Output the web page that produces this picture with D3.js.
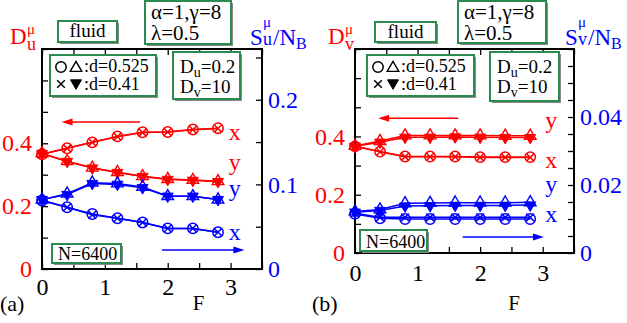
<!DOCTYPE html>
<html lang="en">
<head>
<meta charset="utf-8">
<title>D and S vs F</title>
<script src="https://cdn.jsdelivr.net/npm/d3@7"></script>
<style>
  body { margin: 0; background: #fff; }
  svg text { font-family: "Liberation Serif", "Times New Roman", serif; }
</style>
</head>
<body>
<script>
// ---- data -------------------------------------------------------------
const F = [0, 0.4, 0.8, 1.2, 1.6, 2.0, 2.4, 2.8];

// panel (a): D_u (left axis), S_u/N_B (right axis)
const aDx525 = [0.365, 0.384, 0.403, 0.422, 0.435, 0.436, 0.444, 0.448];
const aDx41  = [0.365, 0.384, 0.403, 0.421, 0.434, 0.436, 0.443, 0.447];
const aDy525 = [0.368, 0.343, 0.322, 0.308, 0.295, 0.286, 0.283, 0.279];
const aDy41  = [0.367, 0.342, 0.321, 0.307, 0.294, 0.285, 0.282, 0.278];
const aSx525 = [0.081, 0.073, 0.065, 0.060, 0.055, 0.048, 0.048, 0.0435];
const aSx41  = [0.081, 0.073, 0.064, 0.060, 0.055, 0.048, 0.048, 0.0435];
const aSy525 = [0.082, 0.089, 0.102, 0.101, 0.097, 0.086, 0.086, 0.082];
const aSy41  = [0.082, 0.088, 0.101, 0.100, 0.096, 0.086, 0.086, 0.082];

// panel (b): D_v (left axis), S_v/N_B (right axis)
const bDx525 = [0.366, 0.348, 0.331, 0.331, 0.331, 0.329, 0.329, 0.329];
const bDx41  = [0.366, 0.347, 0.330, 0.330, 0.330, 0.328, 0.328, 0.328];
const bDy525 = [0.367, 0.384, 0.403, 0.403, 0.403, 0.403, 0.402, 0.402];
const bDy41  = [0.366, 0.380, 0.397, 0.397, 0.398, 0.397, 0.396, 0.396];
const bSx525 = [0.0115, 0.0102, 0.0100, 0.0100, 0.0100, 0.0100, 0.0100, 0.0100];
const bSx41  = [0.0117, 0.0105, 0.0105, 0.0105, 0.0105, 0.0105, 0.0105, 0.0105];
const bSy525 = [0.0122, 0.0128, 0.0146, 0.0147, 0.0148, 0.0148, 0.0148, 0.0149];
const bSy41  = [0.0120, 0.0125, 0.0138, 0.0139, 0.0140, 0.0140, 0.0140, 0.0141];

// ticks
const fTicks  = [0, 0.5, 1, 1.5, 2, 2.5, 3, 3.5];
const fLabels = [0, 1, 2, 3];
const dTicks  = [0, 0.1, 0.2, 0.3, 0.4, 0.5, 0.6, 0.7];
const dLabels = [0, 0.2, 0.4];
const aSTicks  = [0, 0.05, 0.1, 0.15, 0.2, 0.25];
const aSLabels = [0, 0.1, 0.2];
const bSTicks  = [0, 0.005, 0.01, 0.015, 0.02, 0.025, 0.03, 0.035, 0.04, 0.045, 0.05, 0.055, 0.06];
const bSLabels = [0, 0.02, 0.04];

// ---- drawing ----------------------------------------------------------
const RED = "#ff0000", BLUE = "#0000ff", GREEN = "#2b8a4f";
const width = 627, height = 323;

const svg = d3.select("body").append("svg")
  .attr("width", width)
  .attr("height", height);

function marker(g, type, cx, cy, color) {
  if (type === "circle") {
    g.append("circle").attr("cx", cx).attr("cy", cy).attr("r", 5.2)
      .attr("fill", "none").attr("stroke", color).attr("stroke-width", 1.5);
  } else if (type === "cross") {
    const s = 3.8;
    g.append("path")
      .attr("d", `M${cx-s},${cy-s}L${cx+s},${cy+s}M${cx-s},${cy+s}L${cx+s},${cy-s}`)
      .attr("stroke", color).attr("stroke-width", 1.5).attr("fill", "none");
  } else if (type === "tri") {
    g.append("path").attr("transform", `translate(${cx},${cy})`)
      .attr("d", d3.symbol(d3.symbolTriangle, 58)())
      .attr("fill", "none").attr("stroke", color).attr("stroke-width", 1.4);
  } else if (type === "trid") {
    g.append("path").attr("transform", `translate(${cx},${cy}) rotate(180)`)
      .attr("d", d3.symbol(d3.symbolTriangle, 52)())
      .attr("fill", color).attr("stroke", color).attr("stroke-width", 1);
  }
}

function box(x0, y0, w, h) {
  svg.append("rect").attr("x", x0 + 2).attr("y", y0 + 2).attr("width", w).attr("height", h)
    .attr("fill", "#8a8a8a");
  svg.append("rect").attr("x", x0).attr("y", y0).attr("width", w).attr("height", h)
    .attr("fill", "#fff").attr("stroke", GREEN).attr("stroke-width", 2);
}

function fmt(list) {
  return d => list.some(v => Math.abs(v - d) < 1e-9) ? String(d) : "";
}

function drawPanel(p) {
  const x = d3.scaleLinear().domain([0, 3.5]).range([p.l, p.r]);
  const yL = d3.scaleLinear().domain([0, 0.7]).range([p.b, p.t]);
  const yR = d3.scaleLinear().domain(p.sDomain).range([p.b, p.t]);

  // axes, ticks point inward
  const gB = svg.append("g").attr("transform", `translate(0,${p.b})`)
    .call(d3.axisBottom(x).tickValues(fTicks).tickFormat(fmt(fLabels))
      .tickSizeInner(-6).tickSizeOuter(0).tickPadding(p.xPad));
  const gT = svg.append("g").attr("transform", `translate(0,${p.t})`)
    .call(d3.axisTop(x).tickValues(fTicks).tickFormat("").tickSizeInner(-6).tickSizeOuter(0));
  const gL = svg.append("g").attr("transform", `translate(${p.l},0)`)
    .call(d3.axisLeft(yL).tickValues(dTicks).tickFormat(fmt(dLabels))
      .tickSizeInner(-6).tickSizeOuter(0).tickPadding(10));
  const gR = svg.append("g").attr("transform", `translate(${p.r},0)`)
    .call(d3.axisRight(yR).tickValues(p.sTicks).tickFormat(fmt(p.sLabels))
      .tickSizeInner(-6).tickSizeOuter(0).tickPadding(6));

  [gB, gT, gL, gR].forEach(g => {
    g.select(".domain").remove();
    g.selectAll(".tick line").attr("stroke", "#000").attr("stroke-width", 1.3);
    g.selectAll("text").attr("font-family", "Liberation Serif, serif").attr("font-size", 24);
  });
  gB.selectAll("text").attr("fill", "#000");
  gL.selectAll("text").attr("fill", RED);
  gR.selectAll("text").attr("fill", BLUE);

  svg.append("rect").attr("x", p.l).attr("y", p.t)
    .attr("width", p.r - p.l).attr("height", p.b - p.t)
    .attr("fill", "none").attr("stroke", "#000").attr("stroke-width", 2);

  // series
  p.series.forEach(s => {
    const yy = s.axis === "L" ? yL : yR;
    const pts = F.map((f, i) => [x(f), yy(s.vals[i])]);
    const g = svg.append("g");
    g.append("path").attr("d", d3.line()(pts))
      .attr("fill", "none").attr("stroke", s.color).attr("stroke-width", 1.5);
    pts.forEach(q => marker(g, s.mark, q[0], q[1], s.color));
  });

  // series labels
  p.labels.forEach(t => {
    const yy = t.axis === "L" ? yL : yR;
    svg.append("text").attr("x", x(t.f)).attr("y", yy(t.v))
      .attr("font-size", 24).attr("fill", t.color).text(t.text);
  });

  // arrows
  p.arrows.forEach(a => {
    const yy = a.axis === "L" ? yL : yR;
    const x1 = x(a.from), x2 = x(a.to), y0 = yy(a.v);
    const dir = Math.sign(x2 - x1);
    svg.append("line").attr("x1", x1).attr("x2", x2 - dir * 8).attr("y1", y0).attr("y2", y0)
      .attr("stroke", a.color).attr("stroke-width", 1.5);
    svg.append("path")
      .attr("d", `M${x2},${y0}L${x2 - dir * 11},${y0 - 3.5}L${x2 - dir * 11},${y0 + 3.5}Z`)
      .attr("fill", a.color);
  });

  // y titles
  const d = p.dTitle;
  svg.append("text").attr("x", d.x).attr("y", 44).attr("font-size", 23).attr("fill", RED).text("D");
  svg.append("text").attr("x", d.x + 17).attr("y", 34).attr("font-size", 15).attr("fill", RED).text("\u03bc");
  svg.append("text").attr("x", d.x + 17).attr("y", 50).attr("font-size", 18).attr("fill", RED).text(p.comp);

  const s = p.sTitle;
  svg.append("text").attr("x", s.x).attr("y", 45).attr("font-size", 23).attr("fill", BLUE).text("S");
  svg.append("text").attr("x", s.x + 13).attr("y", 27).attr("font-size", 15).attr("fill", BLUE).text("\u03bc");
  svg.append("text").attr("x", s.x + 13).attr("y", 45).attr("font-size", 18).attr("fill", BLUE).text(p.comp);
  const st = svg.append("text").attr("x", s.x + 23).attr("y", 45).attr("font-size", 23).attr("fill", BLUE);
  st.append("tspan").text("/N");
  st.append("tspan").attr("dy", 4).attr("font-size", 16).text("B");

  // boxes
  const b = p.boxes;
  box(b.fluid[0], b.fluid[1], b.fluid[2], b.fluid[3]);
  svg.append("text").attr("x", b.fluid[0] + b.fluid[2] / 2).attr("y", b.fluid[1] + 16)
    .attr("text-anchor", "middle").attr("font-size", 19).text("fluid");

  box(b.par[0], b.par[1], b.par[2], b.par[3]);
  svg.append("text").attr("x", b.par[0] + 6).attr("y", b.par[1] + 18).attr("font-size", 21)
    .text("\u03b1=1,\u03b3=8");
  svg.append("text").attr("x", b.par[0] + 6).attr("y", b.par[1] + 39).attr("font-size", 21)
    .text("\u03bb=0.5");

  box(b.leg[0], b.leg[1], b.leg[2], b.leg[3]);
  const lg = svg.append("g");
  const lx = b.leg[0], ly = b.leg[1];
  marker(lg, "circle", lx + 11, ly + 12, "#000");
  marker(lg, "tri", lx + 26, ly + 13, "#000");
  marker(lg, "cross", lx + 11, ly + 29, "#000");
  marker(lg, "trid", lx + 26, ly + 28, "#000");
  svg.append("text").attr("x", lx + 34).attr("y", ly + 17).attr("font-size", 18).text(":d=0.525");
  svg.append("text").attr("x", lx + 34).attr("y", ly + 35).attr("font-size", 18).text(":d=0.41");

  box(b.dd[0], b.dd[1], b.dd[2], b.dd[3]);
  const t1 = svg.append("text").attr("x", b.dd[0] + 7).attr("y", b.dd[1] + 21).attr("font-size", 19);
  t1.append("tspan").text("D");
  t1.append("tspan").attr("dy", 4).attr("font-size", 14).text("u");
  t1.append("tspan").attr("dy", -4).text("=0.2");
  const t2 = svg.append("text").attr("x", b.dd[0] + 7).attr("y", b.dd[1] + 41).attr("font-size", 19);
  t2.append("tspan").text("D");
  t2.append("tspan").attr("dy", 4).attr("font-size", 14).text("v");
  t2.append("tspan").attr("dy", -4).text("=10");

  box(b.n[0], b.n[1], b.n[2], b.n[3]);
  svg.append("text").attr("x", b.n[0] + 6).attr("y", b.n[1] + b.n[3] - 3).attr("font-size", 18)
    .text("N=6400");

  // panel letter and F
  svg.append("text").attr("x", p.tag[0]).attr("y", p.tag[1]).attr("font-size", 22).text(p.tag[2]);
  svg.append("text").attr("x", x(p.fLab[0])).attr("y", p.fLab[1]).attr("font-size", 21).text("F");
}

drawPanel({
  l: 42, r: 262, t: 49, b: 269, xPad: 9,
  sDomain: [0, 0.26], sTicks: aSTicks, sLabels: aSLabels,
  comp: "u",
  series: [
    { vals: aDx525, axis: "L", color: RED, mark: "circle" },
    { vals: aDx41, axis: "L", color: RED, mark: "cross" },
    { vals: aDy525, axis: "L", color: RED, mark: "tri" },
    { vals: aDy41, axis: "L", color: RED, mark: "trid" },
    { vals: aSx525, axis: "R", color: BLUE, mark: "circle" },
    { vals: aSx41, axis: "R", color: BLUE, mark: "cross" },
    { vals: aSy525, axis: "R", color: BLUE, mark: "tri" },
    { vals: aSy41, axis: "R", color: BLUE, mark: "trid" }
  ],
  labels: [
    { text: "x", f: 2.97, v: 0.41, axis: "L", color: RED },
    { text: "y", f: 2.97, v: 0.314, axis: "L", color: RED },
    { text: "y", f: 2.97, v: 0.0865, axis: "R", color: BLUE },
    { text: "x", f: 2.97, v: 0.0345, axis: "R", color: BLUE }
  ],
  arrows: [
    { from: 1.56, to: 0.31, v: 0.468, axis: "L", color: RED },
    { from: 1.91, to: 3.22, v: 0.0225, axis: "R", color: BLUE }
  ],
  dTitle: { x: 10 }, sTitle: { x: 250 },
  boxes: {
    fluid: [58, 21, 59, 21], par: [145, 1, 86, 43], leg: [50, 55, 106, 41],
    dd: [173, 52, 67, 47], n: [52, 244, 69, 19]
  },
  tag: [0, 311, "(a)"], fLab: [2.4, 310]
});

drawPanel({
  l: 355, r: 574, t: 49, b: 253, xPad: 11,
  sDomain: [0, 0.06], sTicks: bSTicks, sLabels: bSLabels,
  comp: "v",
  series: [
    { vals: bDx525, axis: "L", color: RED, mark: "circle" },
    { vals: bDx41, axis: "L", color: RED, mark: "cross" },
    { vals: bDy525, axis: "L", color: RED, mark: "tri" },
    { vals: bDy41, axis: "L", color: RED, mark: "trid" },
    { vals: bSx525, axis: "R", color: BLUE, mark: "circle" },
    { vals: bSx41, axis: "R", color: BLUE, mark: "cross" },
    { vals: bSy525, axis: "R", color: BLUE, mark: "tri" },
    { vals: bSy41, axis: "R", color: BLUE, mark: "trid" }
  ],
  labels: [
    { text: "y", f: 3.04, v: 0.429, axis: "L", color: RED },
    { text: "x", f: 3.04, v: 0.292, axis: "L", color: RED },
    { text: "y", f: 3.04, v: 0.018, axis: "R", color: BLUE },
    { text: "x", f: 3.04, v: 0.0091, axis: "R", color: BLUE }
  ],
  arrows: [
    { from: 1.65, to: 0.37, v: 0.462, axis: "L", color: RED },
    { from: 1.72, to: 3.02, v: 0.0047, axis: "R", color: BLUE }
  ],
  dTitle: { x: 328 }, sTitle: { x: 565 },
  boxes: {
    fluid: [375, 22, 61, 20], par: [458, 1, 88, 42], leg: [367, 55, 107, 41],
    dd: [490, 52, 69, 49], n: [360, 230, 67, 21]
  },
  tag: [312, 311, "(b)"], fLab: [2.45, 310]
});
</script>
</body>
</html>
